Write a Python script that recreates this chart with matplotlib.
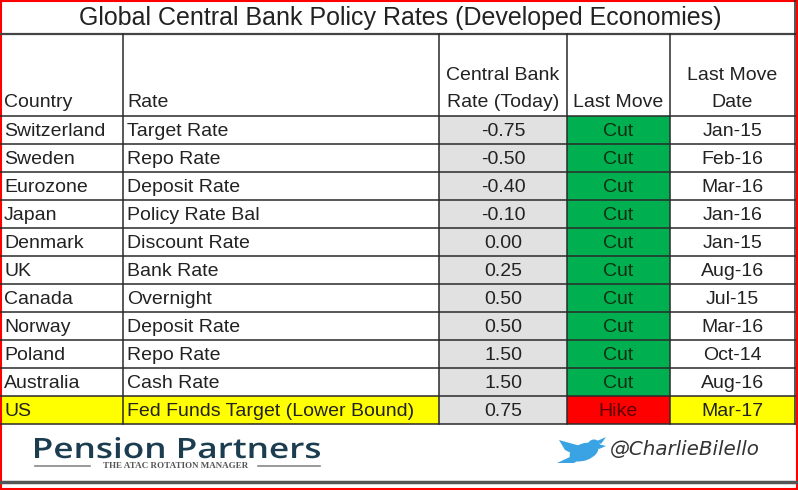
import matplotlib.pyplot as plt
from matplotlib.patches import Rectangle, Ellipse, Polygon, PathPatch
from matplotlib.textpath import TextPath
from matplotlib.font_manager import FontProperties
from matplotlib.transforms import Affine2D

# table content
title = "Global Central Bank Policy Rates (Developed Economies)"
countries = ["Switzerland", "Sweden", "Eurozone", "Japan", "Denmark", "UK",
             "Canada", "Norway", "Poland", "Australia", "US"]
rate_names = ["Target Rate", "Repo Rate", "Deposit Rate", "Policy Rate Bal",
              "Discount Rate", "Bank Rate", "Overnight", "Deposit Rate",
              "Repo Rate", "Cash Rate", "Fed Funds Target (Lower Bound)"]
rates = [-0.75, -0.50, -0.40, -0.10, 0.00, 0.25, 0.50, 0.50, 1.50, 1.50, 0.75]
last_move = ["Cut", "Cut", "Cut", "Cut", "Cut", "Cut", "Cut", "Cut", "Cut", "Cut", "Hike"]
move_dates = ["Jan-15", "Feb-16", "Mar-16", "Jan-16", "Jan-15", "Aug-16",
              "Jul-15", "Mar-16", "Oct-14", "Aug-16", "Mar-17"]
highlight = "US"

W, H = 798, 490
col_x = [0, 123, 439, 567, 670, 795]   # column edges in px
title_y = 34
head_y = 116
row_h = 28

GRAY = "#e1e1e1"
GREEN = "#00b050"
RED = "#ff0000"
YELLOW = "#ffff00"
TXT = "#222222"
LINE = "#2a2a2a"
FONT = "Liberation Sans"

fig = plt.figure(figsize=(W / 100, H / 100), dpi=100)
ax = fig.add_axes([0, 0, 1, 1])
ax.set_xlim(0, W)
ax.set_ylim(H, 0)
ax.axis("off")

ax.text(400, 18, title, ha="center", va="center", fontsize=18, family=FONT, color=TXT)

# header
hy = head_y - 14
ax.text(4, hy, "Country", ha="left", va="center", fontsize=14, family=FONT, color=TXT)
ax.text(col_x[1] + 4, hy, "Rate", ha="left", va="center", fontsize=14, family=FONT, color=TXT)
ax.text((col_x[2] + col_x[3]) / 2, 75, "Central Bank", ha="center", va="center", fontsize=14, family=FONT, color=TXT)
ax.text((col_x[2] + col_x[3]) / 2, hy, "Rate (Today)", ha="center", va="center", fontsize=14, family=FONT, color=TXT)
ax.text((col_x[3] + col_x[4]) / 2, hy, "Last Move", ha="center", va="center", fontsize=14, family=FONT, color=TXT)
ax.text((col_x[4] + col_x[5]) / 2, 75, "Last Move", ha="center", va="center", fontsize=14, family=FONT, color=TXT)
ax.text((col_x[4] + col_x[5]) / 2, hy, "Date", ha="center", va="center", fontsize=14, family=FONT, color=TXT)

# rows
for i, c in enumerate(countries):
    top = head_y + i * row_h
    yc = top + row_h / 2 + 1
    hl = c == highlight
    if hl:
        for a, b in [(0, 2), (4, 5)]:
            ax.add_patch(Rectangle((col_x[a], top), col_x[b] - col_x[a], row_h, color=YELLOW, lw=0))
    ax.add_patch(Rectangle((col_x[2], top), col_x[3] - col_x[2], row_h, color=GRAY, lw=0))
    mcol = GREEN if last_move[i] == "Cut" else RED
    ax.add_patch(Rectangle((col_x[3], top), col_x[4] - col_x[3], row_h, color=mcol, lw=0))
    ax.text(4, yc, c, ha="left", va="center", fontsize=14, family=FONT, color=TXT)
    ax.text(col_x[1] + 4, yc, rate_names[i], ha="left", va="center", fontsize=14, family=FONT, color=TXT)
    ax.text((col_x[2] + col_x[3]) / 2, yc, "%.2f" % rates[i], ha="center", va="center",
            fontsize=14, family=FONT, color=TXT)
    mtxt = "#123012" if last_move[i] == "Cut" else "#5a0000"
    ax.text((col_x[3] + col_x[4]) / 2, yc, last_move[i], ha="center", va="center",
            fontsize=14, family=FONT, color=mtxt)
    ax.text((col_x[4] + col_x[5]) / 2, yc, move_dates[i], ha="center", va="center",
            fontsize=14, family=FONT, color=TXT)

# grid lines
bottom = head_y + len(countries) * row_h
ax.plot([0, col_x[-1]], [title_y, title_y], color="#444444", lw=1.6)
for k in range(len(countries) + 1):
    y = head_y + k * row_h
    ax.plot([0, col_x[-1]], [y, y], color=LINE, lw=1.1)
for x in col_x[1:]:
    ax.plot([x, x], [title_y, bottom], color=LINE, lw=1.1)
ax.plot([col_x[-1], col_x[-1]], [0, title_y], color=LINE, lw=1.1)

# footer: logo text, stretched to the logo's width
fp = FontProperties(family="Open Sans", weight="semibold")
tp = TextPath((0, 0), "Pension Partners", size=1, prop=fp)
bb = tp.get_extents()
logo_w, cap_h = 285, 20
tr = Affine2D().translate(-bb.x0, 0).scale(logo_w / bb.width, -cap_h / 0.714).translate(35, 458)
ax.add_patch(PathPatch(tr.transform_path(tp), color="#1c3d50", lw=0))

ax.text(176, 466, "THE ATAC ROTATION MANAGER", ha="center", va="center", fontsize=6.5,
        family="Liberation Serif", weight="bold", color="#555555")
ax.plot([35, 90], [466, 466], color="#888888", lw=1.2)
ax.plot([258, 320], [466, 466], color="#888888", lw=1.2)

# twitter bird (rough)
bird = "#3aa3e3"
ax.add_patch(Ellipse((584, 452), 30, 17, angle=-20, color=bird, lw=0))
ax.add_patch(Ellipse((594, 445), 12, 11, color=bird, lw=0))
ax.add_patch(Polygon([[597, 441], [606, 437], [601, 444]], closed=True, color=bird, lw=0))
ax.add_patch(Polygon([[598, 444], [606, 446], [599, 449]], closed=True, color=bird, lw=0))
ax.add_patch(Polygon([[584, 447], [559, 440], [565, 450], [575, 455]], closed=True, color=bird, lw=0))
ax.add_patch(Polygon([[572, 456], [557, 463], [574, 463], [582, 458]], closed=True, color=bird, lw=0))

ax.text(610, 449, "@CharlieBilello", ha="left", va="center", fontsize=14.3, family="DejaVu Sans",
        style="italic", color="#333333")

ax.plot([0, W], [482, 482], color="#555555", lw=2.5)

# outer red frame
ax.add_patch(Rectangle((0.8, 0.8), W - 1.6, H - 1.6, fill=False, edgecolor=RED, lw=1.5))

fig.savefig("out.png", dpi=100)
